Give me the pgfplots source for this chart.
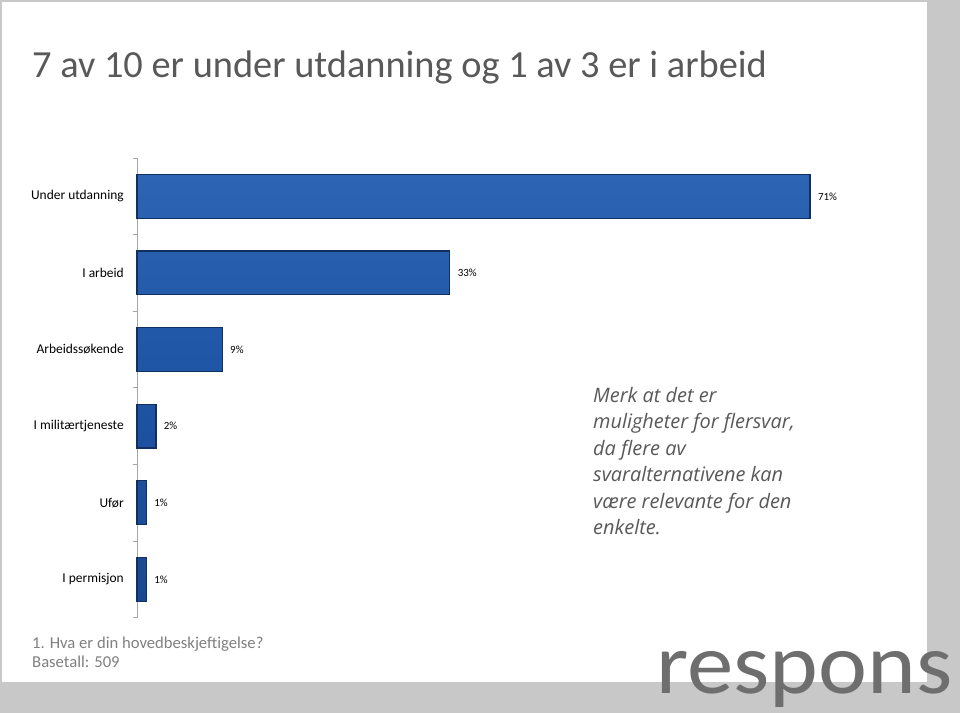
\documentclass[border=0pt]{standalone}
\usepackage{pgfplots}
\pgfplotsset{compat=1.18}
\usepackage{fontspec}
\setmainfont{Carlito}
\newfontfamily\opensans{Open Sans}
\definecolor{titlegrey}{HTML}{595959}
\definecolor{framegrey}{HTML}{C8C8C8}
\definecolor{barmid}{HTML}{1E54A4}
\definecolor{barlight}{HTML}{2E64B4}
\definecolor{bardark}{HTML}{194890}
\definecolor{baredge}{HTML}{10305F}
\definecolor{axisgrey}{HTML}{A6A6A6}
\definecolor{logogrey}{HTML}{6E6E6E}
\definecolor{footgrey}{HTML}{808080}
\definecolor{notegrey}{HTML}{595959}
\begin{document}
\begin{tikzpicture}
\useasboundingbox (0,0) rectangle (960bp,-713bp);
\fill[framegrey] (0,0) rectangle (960bp,-713bp);
\fill[white] (1.5bp,-1.5bp) rectangle (927bp,-682bp);
\node[anchor=base west, inner sep=0, font=\fontsize{38.5}{44}\selectfont, text=titlegrey] at (32bp,-77bp) {7 av 10 er under utdanning og 1 av 3 er i arbeid};
\begin{axis}[
  at={(137bp,-617.6bp)}, anchor=south west, scale only axis,
  width=758.4bp, height=459.6bp,
  xmin=0, xmax=80, ymin=-0.5, ymax=5.5, y dir=reverse,
  xbar, bar width=0.57,
  axis x line=none, axis y line*=left,
  y axis line style={axisgrey, line width=0.8bp},
  ytick={0,...,5},
  yticklabels={Under utdanning, I arbeid, Arbeidssøkende, I militærtjeneste, Ufør, I permisjon},
  major tick length=0pt,
  minor ytick={-0.5,0.5,...,5.5}, minor tick length=4.5bp, tick align=outside,
  minor tick style={axisgrey, line width=0.8bp},
  yticklabel style={font=\fontsize{13.5}{15}\selectfont, text=black, inner sep=0pt, xshift=-13bp},
  nodes near coords={\pgfmathprintnumber{\pgfplotspointmeta}\%},
  nodes near coords align=horizontal,
  every node near coord/.append style={font=\fontsize{11}{12}\selectfont, text=black, xshift=4bp},
  /pgf/number format/assume math mode=true,
  clip=false,
]
\addplot[draw=baredge, line width=1.2bp, top color=barlight, bottom color=bardark, middle color=barmid]
  coordinates {(71,0) (33,1) (9,2) (2,3) (1,4) (1,5)};
\end{axis}
\begin{scope}[every node/.style={anchor=base west, inner sep=0, font=\opensans\itshape\fontsize{20}{24}\selectfont, text=notegrey}]
\node at (593bp,-402bp) {Merk at det er};
\node at (593bp,-428.5bp) {muligheter for flersvar,};
\node at (593bp,-455bp) {da flere av};
\node at (593bp,-481.5bp) {svaralternativene kan};
\node at (593bp,-508bp) {være relevante for den};
\node at (593bp,-534.5bp) {enkelte.};
\end{scope}
\node[anchor=base west, inner sep=0, font=\fontsize{16.7}{19}\selectfont, text=footgrey] at (32bp,-648bp) {1. Hva er din hovedbeskjeftigelse?};
\node[anchor=base west, inner sep=0, font=\fontsize{16.7}{19}\selectfont, text=footgrey] at (32bp,-667bp) {Basetall: 509};
\node[anchor=base west, inner sep=0, font=\fontsize{87}{96}\selectfont, text=logogrey, xscale=1.07] at (656bp,-693bp) {respons};
\end{tikzpicture}
\end{document}
